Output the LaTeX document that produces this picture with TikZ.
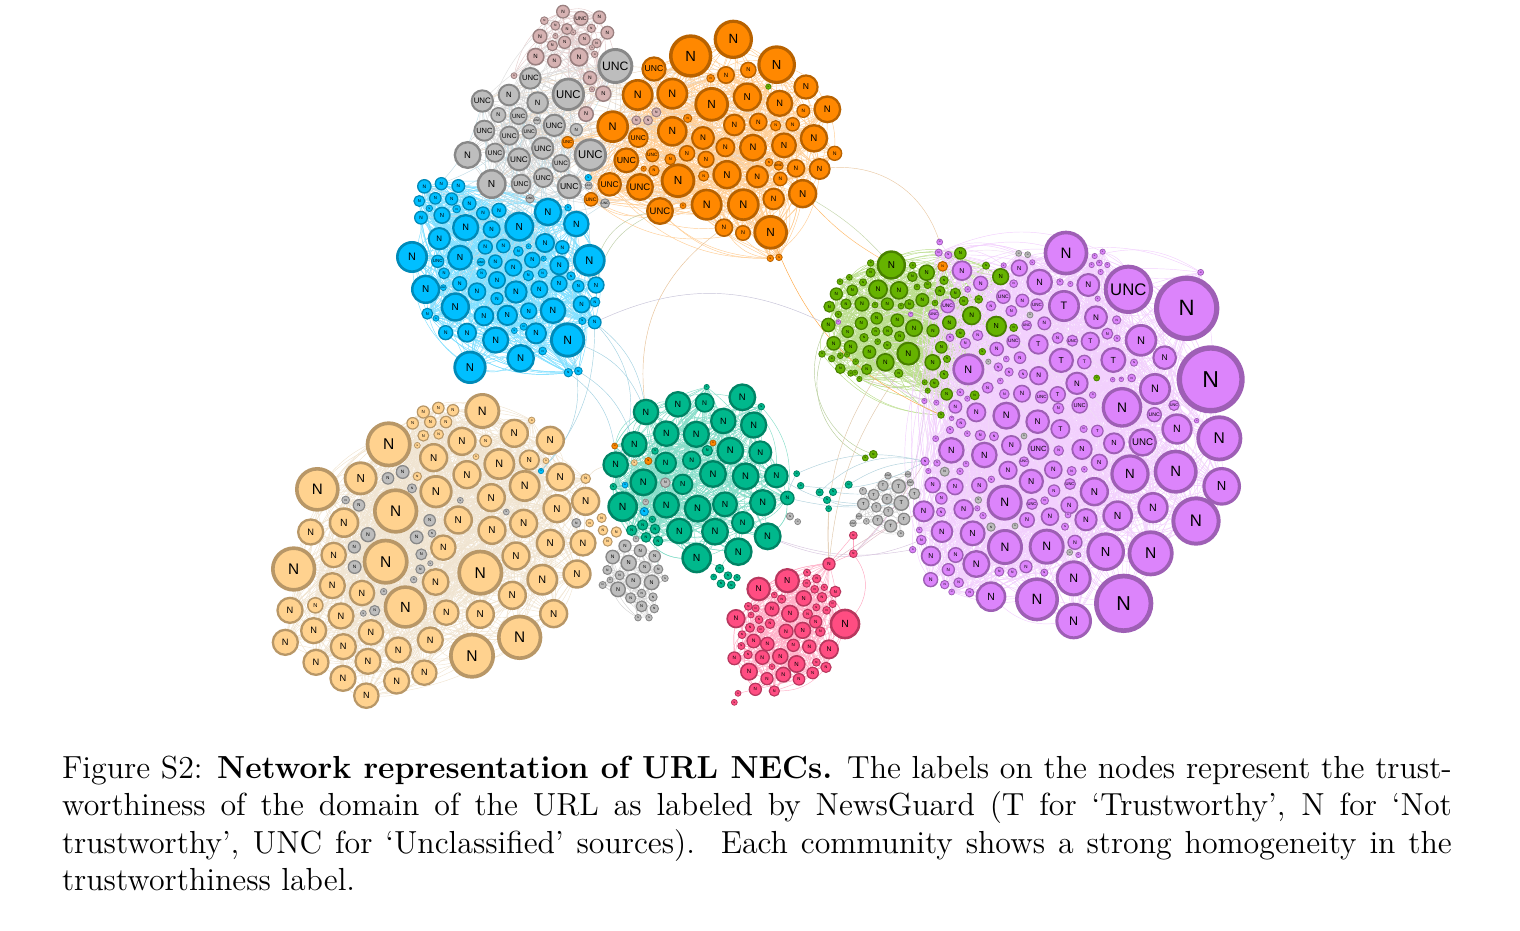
\documentclass[tikz,border=0pt]{standalone}
\usepackage{fontspec}
\setsansfont{Liberation Sans}
\definecolor{netorange}{HTML}{FF8800}
\definecolor{netblue}{HTML}{00BFFF}
\definecolor{netteal}{HTML}{00B88C}
\definecolor{netgreen}{HTML}{66B300}
\definecolor{netpeach}{HTML}{FFD28F}
\definecolor{netpink}{HTML}{FF4D82}
\definecolor{netgray}{HTML}{BDBDBD}
\definecolor{netrose}{HTML}{D6B2B2}
\definecolor{netpurple}{HTML}{DC84FB}
\pgfdeclarelayer{edgelayer}
\pgfsetlayers{edgelayer,main}
\newcount\netcount
\tikzset{
  netnode/.style={circle,inner sep=0pt,outer sep=0pt,text=black},
  netedge/.style={line width=0.45pt},
  crop/.style 2 args={x=0.33333pt,y=-0.33333pt,shift={(#1pt,-#2pt)}}
}
% #1 prefix, #2 colour, #3 label, #4 list x/y/d in crop pixels
\newcommand{\netnodes}[4]{
  \foreach \x/\y/\d in {#4} {
    \global\advance\netcount by 1
    \pgfmathsetmacro\nlw{0.25+0.025*\d}
    \pgfmathsetmacro\nsz{\d/3-\nlw}
    \pgfmathsetmacro\nfs{0.113*\d}
    \node[netnode,fill=#2,draw=#2!72!black,minimum size=\nsz pt,line width=\nlw pt,
      font=\fontsize{\nfs}{\nfs}\selectfont\sffamily] (#1\the\netcount) at (\x,\y) {#3};
  }
}
% #1 prefix, #2 colour, #3 edges per node; uses the nodes counted so far
\newcommand{\netedges}[3]{
  \edef\nmax{\the\netcount}
  \begin{pgfonlayer}{edgelayer}
  \foreach \i in {1,...,\nmax} \foreach \k in {1,...,#3} {
    \pgfmathtruncatemacro\j{mod(mod(\i*(\k*5+3),\nmax)+\k*\k*11+mod(\i,7)*\k*13,\nmax)+1}
    \ifnum\i=\j\else \draw[netedge,draw=#2] (#1\i) to[bend left=24] (#1\j); \fi
  }
  \end{pgfonlayer}
  \global\netcount=0
}
% #1,#2 first prefix and size, #3,#4 second prefix and size, #5 colour, #6 edges
\newcommand{\crossedges}[6]{
  \begin{pgfonlayer}{edgelayer}
  \foreach \i in {1,...,#6} {
    \pgfmathtruncatemacro\ja{mod(\i*7,#2)+1}
    \pgfmathtruncatemacro\jb{mod(\i*11,#4)+1}
    \draw[netedge,draw=#5] (#1\ja) to[bend left=18] (#3\jb);
  }
  \end{pgfonlayer}
}
\begin{document}
\begin{tikzpicture}
  \useasboundingbox (0pt,0pt) rectangle (1520pt,-930pt);

  % top clusters
  \begin{scope}[crop={390}{0}]
    \netnodes{rose}{netrose}{N}{519/35/42,628/52/42,463/62/26,496/77/30,531/87/36,604/85/28,652/98/42,450/109/46,496/108/18,550/97/18,524/127/40,583/118/38,620/130/30,487/137/34,437/170/54,493/183/44,567/171/58,606/142/18,614/163/22,372/227/20,600/234/44,640/281/50,606/268/18,588/342/48}
    \netnodes{rose}{netrose}{UNC}{573/55/46}
    \netedges{rose}{netrose!65!white}{5}

    \netnodes{gray}{netgray}{UNC}{676/198/108,421/235/68,535/283/100,277/303/70,386/348/54,441/362/24,283/392/66,493/376/70,418/395/46,358/407/60,458/445/70,601/465/100,315/458/60,387/478/72,513/490/56,393/552/62,460/533/62,538/560/76,420/596/28,645/610/30,596/557/24}
    \netnodes{gray}{netgray}{N}{357/285/68,443/308/68,325/345/48,559/389/40,233/465/84,305/552/90}
    \netedges{gray}{netgray!65!white}{8}

    \netnodes{orange}{netorange}{N}{1289/507/66,1238/581/88,1142/697/104,1002/683/56,1030/118/118,902/168/130,1160/194/116,1008/225/54,1075/210/50,962/235/26,1248/261/76,743/285/96,847/281/96,1072/291/88,965/313/104,1169/310/82,1312/328/84,1240/333/42,893/355/28,668/380/98,847/394/92,1033/375/68,1105/366/56,1157/377/34,1208/373/44,1272/415/86,939/414/72,1006/442/60,1089/443/84,1182/436/78,891/460/50,948/478/52,841/478/36,1334/460/46,1137/487/26,1218/505/56,864/542/104,761/506/18,792/512/34,941/528/34,1011/524/88,1102/530/70,1171/537/44,950/614/96,1060/614/98,1151/597/68,879/617/20,1059/699/48,1141/775/22,1167/772/22}
    \netnodes{orange}{netorange}{UNC}{810/633/84,792/207/76,745/413/62,533/427/38,709/481/78,787/466/42,1166/497/30,659/553/74,750/561/84,603/598/44}
    \netnodes{orange}{netrose}{N}{739/361/30,774/361/30,799/337/30}
    \netnodes{orange}{netgreen}{N}{1135/260/18}
    \netnodes{orange}{netblue}{N}{595/533/22}
    \netedges{orange}{netorange!42!white}{10}

    \netnodes{blue}{netblue}{N}{614/967/42,618/855/52,533/1020/106,240/1102/100,535/1118/28,565/1113/26,103/559/44,154/551/40,205/558/42,88/603/36,136/595/38,185/597/40,118/625/22,93/653/42,156/646/52,200/627/26,238/610/44,279/640/42,327/631/46,474/636/86,534/623/22,559/672/80,227/683/82,305/688/54,388/680/90,148/716/70,465/729/60,517/742/44,286/741/46,340/738/44,385/754/32,416/739/18,66/771/96,210/773/78,316/785/44,427/780/50,461/776/18,370/803/54,508/796/60,598/781/98,162/820/36,275/821/32,415/827/34,458/820/30,543/828/28,209/851/46,321/840/54,107/868/88,261/875/56,378/876/70,448/868/54,507/851/52,565/859/38,321/896/40,196/921/88,575/913/54,615/906/32,282/948/62,352/946/64,416/933/52,489/932/80,112/941/36,138/955/20,577/963/24,401/980/24,167/998/46,231/998/60,373/992/20,317/1020/82,438/1000/66,458/1053/26,392/1075/86}
    \netnodes{blue}{netblue}{UNC}{143/784/40,273/786/26,160/863/20}
    \netedges{blue}{netblue!50!white}{11}
  \end{scope}

  % peach cluster
  \begin{scope}[crop={260}{385}]
    \netnodes{peach}{netpeach}{N}{977/349/88,667/78/108,386/178/138,763/145/88,871/166/88,815/106/22,490/81/40,535/69/38,579/76/38,458/115/38,511/111/38,558/111/38,490/152/36,536/148/32,472/181/20,606/169/88,677/168/38,521/218/88,648/215/20,718/237/96,808/225/64,858/227/20,621/269/88,172/313/134,302/280/102,472/274/28,528/320/100,694/338/88,794/303/96,901/276/88,977/281/32,891/371/88,407/378/136,252/413/92,152/441/82,595/405/88,696/436/88,791/415/88,550/488/80,871/475/88,969/474/82,101/552/136,221/510/80,377/530/138,768/513/88,661/563/138,951/567/88,847/584/96,527/591/84,217/602/82,306/624/80,757/631/88,436/666/130,90/676/82,166/661/50,243/693/82,559/683/80,661/688/88,881/686/88,161/737/82,333/742/80,779/757/136,76/772/82,511/765/82,250/785/82,415/795/82,636/812/138,168/832/82,324/829/82,493/863/80,249/880/82,410/888/82,319/932/80}
    \netnodes{peach}{netgray}{N}{428/261/42,384/280/38,456/310/30,257/345/26,297/361/38,601/346/20,739/381/20,509/406/38,324/449/46,470/457/42,516/445/26,283/486/40,484/508/36,284/546/42,511/535/18,481/553/30,461/584/22,371/620/22,344/677/34,310/685/20}
    \netnodes{peach}{netblue}{N}{843/258/18}
    \netedges{peach}{netpeach!55!netgray!50!white}{12}
    \global\netcount=100
    \netnodes{peachb}{netpeach}{N}{1025/399/30,989/414/26,1029/436/32,1069/441/34,1043/470/30}
    \netnodes{peachb}{netgray}{N}{949/414/30}
    \global\netcount=0
  \end{scope}

  % middle and bottom clusters
  \begin{scope}[crop={590}{375}]
    \netnodes{teal}{netteal}{N}{168/111/80,592/369/44,533/484/84,559/303/74,77/269/80,264/88/80,344/83/60,457/67/84,514/95/22,400/138/80,491/150/82,229/176/80,319/178/82,133/208/80,352/227/34,195/228/22,421/227/84,511/232/72,227/264/68,305/256/58,369/297/84,467/304/84,160/322/84,278/328/64,70/335/22,98/395/92,229/390/82,323/401/84,405/388/78,518/383/82,268/468/80,375/470/84,458/443/70,125/466/34,158/450/34,195/462/32,187/433/22,168/487/32,204/498/32,320/549/92,445/530/86,350/36/18}
    \netnodes{teal}{netorange}{N}{175/258/24,74/213/20,369/204/20}
    \netnodes{teal}{netpeach}{N}{133/263/20}
    \netnodes{teal}{netblue}{N}{105/330/20,163/410/28}
    \netnodes{teal}{netgray}{N}{226/323/32,167/381/20,138/492/20}
    \netedges{teal}{netteal!48!white}{10}
    \netnodes{tealb}{netteal}{N}{776/329/24,620/296/20,632/332/22,689/352/24,729/351/24,711/375/24,716/401/20,389/581/28,414/602/26,371/606/20,441/608/22,393/626/26,424/630/26}
    \netnodes{tealb}{netgray}{N}{600/424/24,623/440/20}
    \global\netcount=0

    \netnodes{grayl}{netgray}{N}{105/513/40,151/527/40,194/544/38,68/546/44,116/564/50,164/577/38,205/583/30,52/585/30,89/601/30,60/615/20,38/630/24,130/618/48,185/622/48,84/643/48,225/610/22,155/655/28,189/666/28,122/669/34,155/694/36,193/701/28,144/728/22,177/728/22}
    \netedges{grayl}{netgray!65!white}{4}

    \netnodes{grayt}{netgray}{T}{820/387/38,926/334/44,879/332/34,851/359/36,891/372/34,973/356/36,934/384/48,859/397/32,895/410/32,942/432/38,863/436/34,902/453/40,819/348/24,829/439/20}
    \netnodes{grayt}{netgray}{UNC}{954/298/20,894/302/22,961/323/22,807/424/20,789/445/22}
    \netnodes{grayt}{netgray}{N}{932/476/22}
    \netedges{grayt}{netgray!65!white}{3}

    \netnodes{pink}{netpink}{N}{717/567/40,765/747/92,651/593/24,592/617/76,506/642/74,680/611/28,650/625/26,736/650/36,674/643/26,703/637/22,553/660/20,575/672/28,641/670/50,696/667/32,728/687/24,475/694/26,497/700/24,679/697/24,710/706/26,546/702/46,600/716/54,438/731/58,483/720/20,507/734/26,653/717/32,540/746/32,677/740/40,480/758/30,512/763/24,588/769/46,638/766/52,691/770/32,456/779/26,491/798/44,532/807/44,610/811/40,658/815/44,717/823/60,454/813/24,474/839/28,517/847/46,571/844/50,433/850/42,620/867/54,679/862/26,708/877/34,546/875/20,477/890/54,531/911/40,580/899/48,668/894/38,627/913/38,496/943/40,553/948/34}
    \netedges{pink}{netpink!45!white}{7}
    \netnodes{pinkb}{netpink}{N}{790/536/26,790/481/26,444/955/20,433/982/20}
    \global\netcount=0
  \end{scope}

  % right clusters
  \begin{scope}[crop={815}{225}]
    \netnodes{green}{netgreen}{N}{229/120/88,21/387/22,40/300/44,251/445/28,211/412/56,163/381/42,436/85/38,335/143/50,293/121/22,167/114/22,292/155/32,167/143/30,103/157/20,75/170/20,144/172/24,189/193/60,252/196/56,375/198/32,338/180/24,387/166/28,306/186/20,557/155/52,513/122/24,64/207/40,112/196/36,322/225/42,421/205/34,93/237/34,141/237/46,217/237/40,43/245/36,180/240/20,258/243/20,283/238/32,360/234/20,446/228/30,491/223/26,70/268/22,185/280/38,247/286/42,139/295/40,98/320/38,297/309/54,354/317/40,403/293/44,470/272/58,544/304/64,596/308/26,436/325/30,182/320/28,218/318/32,254/334/34,147/338/28,56/355/44,107/366/42,188/350/20,217/361/26,280/386/72,379/367/38,76/392/20,50/401/22,96/389/18,353/412/50,396/402/24,122/410/20,76/431/32,155/433/34,107/445/20,120/443/18,133/462/18,387/449/28,358/475/30,329/472/18,338/497/18,395/508/38,479/511/30,378/570/22,502/380/22}
    \netnodes{green}{netorange}{N}{383/124/32}
    \netnodes{green}{netpurple}{N}{287/268/16,70/291/16}
    \netedges{green}{netgreen!45!white}{8}
    \netnodes{greenb}{netgreen}{N}{175/688/26,151/699/20}
    \global\netcount=0

    \netnodes{purpleb}{netpurple}{N}{330/709/28,326/859/66,293/974/22,319/945/32,374/51/20,328/528/18}
    \global\netcount=0
    \netnodes{purple}{netpurple}{N}{753/84/134,1115/250/196,1187/463/204,1213/640/138,1220/784/116,1143/888/148,926/1135/178,776/1188/110,776/1060/108,666/1123/132,528/1115/92,1007/985/138,872/980/116,695/965/108,570/966/108,1082/740/132,945/747/118,1014/848/94,908/872/92,838/800/88,569/833/108,921/547/122,1020/492/96,978/346/98,1049/398/74,1086/612/94,897/655/66,801/673/64,853/712/52,820/180/72,674/171/80,613/129/52,441/137/62,497/175/46,843/277/72,622/227/42,528/243/32,589/258/36,688/295/42,905/285/28,877/326/36,906/340/22,728/339/36,488/331/34,451/355/34,405/338/26,545/372/44,615/398/38,957/413/24,460/433/96,574/402/20,550/426/28,582/441/28,624/447/30,671/452/58,786/475/70,518/488/36,556/468/20,568/507/32,621/506/54,730/550/36,833/510/22,950/459/26,919/463/16,893/464/16,421/545/42,484/562/60,574/572/84,668/590/74,806/612/24,438/595/32,410/580/16,405/615/24,457/626/20,496/631/34,537/634/30,589/661/62,731/677/32,409/676/80,508/690/80,362/641/20,579/736/58,715/734/56,770/738/30,808/733/20,649/769/76,453/717/20,435/739/22,340/738/18,366/714/22,353/780/50,420/785/52,493/781/50,529/763/22,379/820/38,717/797/38,689/827/26,763/841/54,378/861/30,446/853/62,487/850/18,504/872/22,705/875/56,813/884/70,636/885/48,759/870/20,750/905/24,381/920/68,473/925/78,313/915/20,780/952/46,348/993/62,422/990/48,484/1017/84,400/1034/40,553/1040/30,592/1043/30,633/1025/40,688/1043/24,790/990/18,347/1064/46,389/1079/28,431/1073/32,410/1101/20,464/1103/28,1145/587/16,1157/142/20,371/83/24,400/90/24,458/193/20,566/121/18,596/176/26,652/112/18,735/171/22,766/177/18,839/93/18,863/80/18,830/120/18,853/114/20,877/120/18,857/141/18,848/221/18,364/533/18,436/502/24,457/521/18}
    \netnodes{purple}{netpurple}{UNC}{940/193/148,983/652/86,1018/569/46,1077/541/34,565/215/44,666/240/40,398/243/44,356/268/34,635/301/32,772/347/36,595/349/42,680/516/40,794/541/50,670/672/66,627/710/32,765/777/36,651/837/36}
    \netnodes{purple}{netpurple}{T}{747/243/96,826/349/58,670/358/62,739/406/76,808/411/44,895/405/78,728/508/50,736/612/60,847/618/38}
    \netnodes{purple}{netgray}{N}{611/85/20,638/89/20,645/270/20,520/410/18,627/633/20,389/740/30,490/825/22,528/906/28,600/903/20,764/982/20}
    \netnodes{purple}{netgreen}{N}{845/459/20}
    \netedges{purple}{netpurple!38!white}{12}
  \end{scope}

  % edges between clusters
  \crossedges{gray}{27}{orange}{60}{netorange!30!netgray!50!white}{45}
  \crossedges{gray}{27}{blue}{70}{netblue!25!netgray!55!white}{40}
  \crossedges{gray}{27}{rose}{24}{netgray!50!white}{25}
  \crossedges{green}{78}{purple}{150}{netgreen!15!netpurple!28!white}{22}
  \begin{pgfonlayer}{edgelayer}
    \draw[netedge,draw=netorange!45!netgray!60!white] (orange1) to[bend left=38] (purpleb5);
    \draw[netedge,draw=netorange!60!white] (orange2) to[bend right=8] (green1);
    \draw[netedge,draw=netgreen!40!netgray!60!white] (orange2) to[bend left=8] (green1);
    \draw[netedge,draw=netorange!75!white] (orange3) to[bend right=22] (green77);
    \draw[netedge,draw=netorange!45!netgray!70!white] (orange4) to[bend right=30] (teal1);
    \draw[netedge,draw=netgreen!30!netgray!70!white] (orange51) to[bend right=25] (blue2);
    \draw[netedge,draw=netgreen!30!netgray!70!white] (orange51) to[bend right=40] (blue2);
    \draw[netedge,draw=netblue!25!netpurple!25!netgray!80!white] (blue1) to[bend left=25] (green3);
    \draw[netedge,draw=netblue!35!netgray!70!white] (blue1) to[bend left=20] (teal1);
    \draw[netedge,draw=netblue!35!netgray!70!white] (blue1) to[bend left=32] (teal5);
    \draw[netedge,draw=netblue!35!netgray!70!white] (blue3) to[bend left=22] (teal1);
    \draw[netedge,draw=netblue!35!netgray!70!white] (blue5) to[bend left=24] (teal5);
    \draw[netedge,draw=netblue!35!netgray!70!white] (blue6) to[bend left=18] (teal14);
    \draw[netedge,draw=netblue!35!netgray!70!white] (blue3) to[bend left=30] (peach94);
    \draw[netedge,draw=netblue!35!netgray!70!white] (blue1) to[bend left=20] (peach94);
    \draw[netedge,draw=netgreen!40!netgray!70!white] (green2) to[bend right=40] (greenb2);
    \draw[netedge,draw=netgreen!40!netgray!70!white] (green3) to[bend right=50] (greenb1);
    \draw[netedge,draw=netorange!30!netgray!70!white] (green4) to[bend right=14] (pink1);
    \draw[netedge,draw=netorange!30!netgray!70!white] (green5) to[bend right=18] (pink1);
    \draw[netedge,draw=netorange!30!netgray!70!white] (pink1) to[bend left=3] (tealb7);
    \draw[netedge,draw=netpurple!40!netgray!70!white] (green6) to[bend right=18] (purpleb6);
    \draw[netedge,draw=netblue!25!netgray!70!white] (teal2) to[bend left=8] (tealb2);
    \draw[netedge,draw=netblue!25!netgray!70!white] (tealb1) to[bend left=14] (purpleb1);
    \draw[netedge,draw=netblue!25!netgray!70!white] (tealb2) to[bend left=18] (purpleb1);
    \draw[netedge,draw=netblue!25!netgray!70!white] (tealb3) to[bend right=18] (purpleb1);
    \draw[netedge,draw=netblue!25!netgray!70!white] (tealb4) to[bend left=28] (purpleb1);
    \draw[netedge,draw=netblue!25!netgray!70!white] (tealb5) to[bend right=12] (grayt2);
    \draw[netedge,draw=netblue!25!netgray!70!white] (tealb6) to[bend right=16] (grayt1);
    \draw[netedge,draw=netblue!25!netgray!70!white] (teal4) to[bend right=14] (grayt1);
    \draw[netedge,draw=netblue!25!netgray!70!white] (teal2) to[bend right=10] (grayt7);
    \draw[netedge,draw=netpurple!30!netgray!70!white] (teal3) to[bend right=14] (purpleb3);
    \draw[netedge,draw=netpurple!30!netgray!70!white] (teal3) to[bend right=22] (purpleb4);
    \draw[netedge,draw=netpink!30!netgray!70!white] (pinkb1) to[bend left=8] (purpleb2);
    \draw[netedge,draw=netpink!30!netgray!70!white] (pinkb1) to[bend right=6] (purpleb1);
    \draw[netedge,draw=netpink!30!netgray!70!white] (pink1) to[bend left=6] (purpleb2);
    \draw[netedge,draw=netpink!50!white] (pink1) -- (pinkb1);
    \draw[netedge,draw=netpink!50!white] (pink1) -- (pinkb2);
    \draw[netedge,draw=netpink!50!white] (pinkb2) -- (pinkb1);
    \draw[netedge,draw=netpink!50!white] (pinkb1) to[bend left=38] (pink2);
    \draw[netedge,draw=netpurple!40!netgray!70!white] (pinkb1) to[bend right=22] (purpleb6);
    \draw[netedge,draw=netpink!50!white] (pink52) -- (pinkb3);
    \draw[netedge,draw=netpeach!50!netgray!60!white] (peach1) to[bend left=40] (teal5);
    \draw[netedge,draw=netteal!40!netgray!50!white] (teal15) to[bend right=30] (grayl7);
    \draw[netedge,draw=netteal!40!netgray!50!white] (teal39) to[bend right=20] (grayl3);
    \draw[netedge,draw=netteal!40!white] (teal41) to[bend right=12] (tealb8);
    \draw[netedge,draw=netteal!40!white] (teal40) to[bend left=10] (tealb9);
    % the purple cluster's left side ties in with its own nodes
    \foreach \i/\j in {1/97,2/100,2/125,3/130,4/128,4/110,5/120,6/60}
      \draw[netedge,draw=netpurple!38!white] (purpleb\i) to[bend left=12] (purple\j);
  \end{pgfonlayer}

  \node[anchor=north west,text width=522.5pt,align=justify,inner sep=0pt,scale=2.66,
    font=\fontsize{12}{14.1}\selectfont] (caption) at (61.5pt,-755pt)
    {Figure S2: \textbf{Network representation of URL NECs.} The labels on the nodes represent the trust-\linebreak
    worthiness of the domain of the URL as labeled by NewsGuard (T for `Trustworthy', N for `Not\linebreak
    trustworthy', UNC for `Unclassified' sources).\ \ Each community shows a strong homogeneity in the\linebreak
    trustworthiness label.};
\end{tikzpicture}
\end{document}
